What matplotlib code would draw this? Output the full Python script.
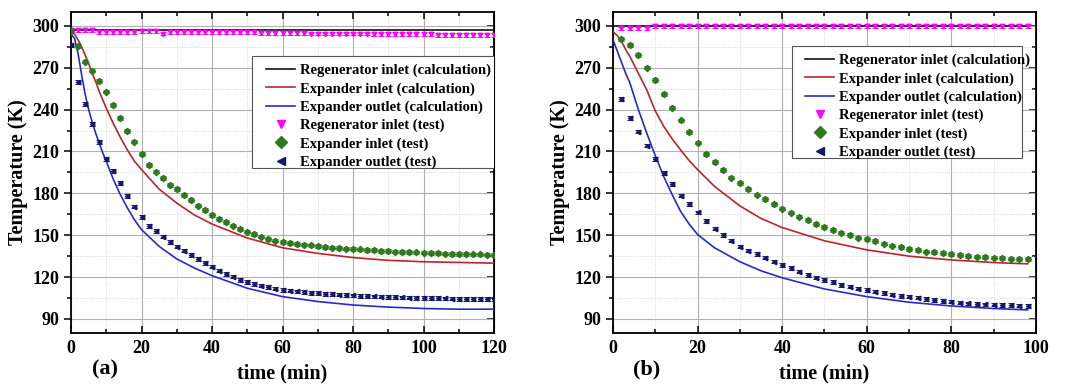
import numpy as np
import matplotlib
matplotlib.use("Agg")
import matplotlib.pyplot as plt
from matplotlib.ticker import MultipleLocator
from matplotlib.patches import Rectangle

plt.rcParams['font.family'] = ['Liberation Serif', 'DejaVu Serif']
plt.rcParams['font.weight'] = 'bold'

# ---------------- panel (a) ----------------
a_calc_t = [0, 1, 2, 3, 4, 5, 6, 7, 8, 9, 10, 12, 14, 16, 18, 20, 25, 30, 35, 40,
            50, 60, 70, 80, 90, 100, 110, 120]
a_regen_calc = [297] * len(a_calc_t)
a_expin_calc = [296, 294, 290, 285, 279, 273, 266, 260, 253, 247, 241, 230, 220, 211,
                203, 197, 183, 173, 164.5, 158, 148, 141, 137, 134, 132, 131, 130.5, 130]
a_expout_calc = [294, 291, 280, 265, 251, 240, 231, 223, 216, 209, 203, 190, 179, 169.5,
                 161, 154, 142, 133, 126.5, 121, 112, 106, 102.5, 100, 98.5, 97.5, 97, 97]

a_test_t = list(range(0, 121, 2))
a_regen_test = [297, 297, 297, 297, 295.5, 295.5, 295.5, 295.5, 295.5, 295.5, 296, 296,
                296, 294.5, 295.5, 295.5, 295.5, 295.5, 295.5, 295.5, 295.5, 295.5,
                295.5, 295.5, 295.5, 295.5, 295.5, 295, 295, 295, 295, 295, 295, 295,
                294.5, 294.5, 294.5, 294.5, 294.5, 294.5, 294.5, 294.5, 294.5, 294,
                294, 294, 294, 294, 294, 294, 294, 294, 293.5, 293.5, 293.5, 293.5,
                293.5, 293.5, 293.5, 293.5, 293.5]
a_expin_test = [296, 285.7, 274.4, 268, 260.6, 252.9, 243.4, 233.8, 224.7, 217.1, 208.3,
                200.4, 195.6, 190.8, 186, 182.9, 178.9, 175.3, 171.2, 168.1, 164.5,
                161.7, 159.3, 156.9, 154.3, 152.6, 150.7, 149, 147.3, 146.1, 145.2,
                144.5, 143.9, 143.3, 142.7, 142.2, 141.7, 141.2, 140.8, 140.4, 140.1,
                139.8, 139.5, 139.2, 138.9, 138.6, 138.3, 138.1, 137.9, 137.7, 137.5,
                137.3, 137.1, 136.9, 136.7, 136.6, 136.4, 136.3, 136.2, 136.1, 136]
a_expout_test = [286, 260, 244, 229.8, 217, 204.7, 196, 187.2, 178.2, 170.5, 163, 156.7,
                 153.1, 149, 145, 141.8, 139, 135.9, 132.8, 130, 127.5, 124.6, 122.3,
                 120.4, 118, 116.3, 115, 113.9, 112.7, 111.7, 110.8, 110.3, 109.8,
                 109.3, 108.8, 108.4, 108, 107.7, 107.4, 107.1, 106.9, 106.6, 106.4,
                 106.2, 106, 105.8, 105.6, 105.4, 105.3, 105.2, 105.1, 104.9, 104.8,
                 104.7, 104.6, 104.5, 104.4, 104.3, 104.2, 104.1, 104]

# ---------------- panel (b) ----------------
b_calc_t = [0, 1, 2, 3, 4, 6, 8, 10, 12, 14, 16, 18, 20, 24, 30, 35, 40, 50, 60, 70,
            80, 90, 98]
b_regen_calc = [300] * len(b_calc_t)
b_expin_calc = [296, 293, 289, 283, 278, 266, 254, 239, 228, 219, 211, 203.5, 197, 185,
                171, 162, 155.5, 146, 139.5, 135, 132.3, 130.4, 129.5]
b_expout_calc = [290, 282, 274, 266, 259, 240, 223, 207, 192, 179, 167, 158, 150.5,
                 141, 131, 124.5, 119.5, 111.5, 106, 102, 99.3, 97.5, 96.5]

b_test_t = list(range(2, 99, 2))
b_regen_test = [298.2, 298.2, 298.2, 298.2] + [299.7] * 45
b_expin_test = [290.4, 286.4, 279.2, 270.1, 261, 251, 241.5, 232.2, 224, 216.4, 208,
                202.3, 196.8, 191.3, 187.2, 182.9, 179.1, 176, 172.4, 169.1, 166.2,
                163.3, 160.7, 158.1, 155.7, 153.8, 151.9, 150, 148.3, 147.1, 145.7,
                144, 142.6, 141.4, 140.2, 139.5, 138.3, 137.8, 137.1, 136.4, 135.9,
                135.2, 134.7, 134.2, 134, 133.5, 133.3, 133, 132.8]
b_expout_test = [247.7, 233.8, 224.3, 214.2, 204.7, 194.4, 186.5, 178.4, 172.4, 166.4,
                 160.2, 154.7, 150.2, 146.1, 141.8, 139, 136.6, 134, 131.1, 128.7,
                 126.4, 124, 121.6, 119.6, 118, 116.3, 114.4, 113.2, 111.7, 110.8,
                 109.6, 108.4, 107.4, 106.5, 106, 105.3, 104.3, 103.6, 102.9, 102.4,
                 101.7, 101.2, 100.8, 100.5, 100.3, 100, 99.8, 99.6, 99.3]

calc_labels = ["Regenerator inlet (calculation)", "Expander inlet (calculation)",
               "Expander outlet (calculation)"]
test_labels = ["Regenerator inlet (test)", "Expander inlet (test)",
               "Expander outlet (test)"]
calc_colors = ["#111111", "#b8262a", "#2a2ac8"]
test_colors = ["#ff00ff", "#2f7a1f", "#16166a"]
test_markers = ["v", "D", "<"]


def draw_panel(ax, calc_t, calcs, test_t, tests, xmax, tag, leg_anchor, box):
    ax.set_xlim(0, xmax)
    ax.set_ylim(80, 310)
    ax.xaxis.set_major_locator(MultipleLocator(20))
    ax.xaxis.set_minor_locator(MultipleLocator(10))
    ax.yaxis.set_major_locator(MultipleLocator(30))
    ax.yaxis.set_minor_locator(MultipleLocator(15))
    ax.set_yticks(range(90, 301, 30))
    ax.grid(which='major', color='#b0b0b0', lw=0.8)
    ax.grid(which='minor', color='#cfcfcf', lw=0.6, ls=':')
    ax.set_axisbelow(True)

    for y, lab, c in zip(calcs, calc_labels, calc_colors):
        ax.plot(calc_t, y, color=c, lw=1.2, label=lab, zorder=3)
    for y, lab, c, m in zip(tests, test_labels, test_colors, test_markers):
        ax.errorbar(test_t, y, yerr=1.3, fmt='none', ecolor=c, elinewidth=0.7,
                    capsize=2, capthick=0.7, zorder=4)
        ax.plot(test_t, y, ls='none', marker=m, ms=3.2, color=c, label=lab, zorder=5)

    for s in ax.spines.values():
        s.set_linewidth(1.3)
    ax.tick_params(axis='x', which='both', direction='in', top=True, labelsize=13,
                   width=1.1, pad=5)
    ax.tick_params(axis='x', which='major', length=5)
    ax.tick_params(axis='x', which='minor', length=3)
    ax.tick_params(axis='y', which='both', direction='out', labelsize=13, width=1.1)
    ax.tick_params(axis='y', which='major', length=5)
    ax.tick_params(axis='y', which='minor', length=3)
    sec = ax.secondary_yaxis('right')
    sec.yaxis.set_major_locator(MultipleLocator(30))
    sec.yaxis.set_minor_locator(MultipleLocator(15))
    sec.tick_params(which='both', direction='in', labelright=False, width=1.1)
    sec.tick_params(which='major', length=5)
    sec.tick_params(which='minor', length=3)

    ax.set_xlabel("time (min)", fontsize=14.5, fontweight='bold', labelpad=5)
    ax.set_ylabel("Temperature (K)", fontsize=14.5, fontweight='bold', labelpad=3)
    ax.text(0.08, -0.115, tag, transform=ax.transAxes, fontsize=16,
            fontweight='bold', ha='center', va='center')

    # legend frame (drawn separately so the padding matches the original)
    ax.add_patch(Rectangle((box[0], box[1]), box[2], box[3], transform=ax.transAxes,
                           facecolor='white', edgecolor='#555555', lw=0.8, zorder=6))
    leg = ax.legend(loc='upper left', bbox_to_anchor=leg_anchor, fontsize=10.5,
                    frameon=False, borderaxespad=0, borderpad=0,
                    handlelength=2.0, handletextpad=0.35, labelspacing=0.33,
                    markerscale=2.0)
    leg.set_zorder(7)


fig = plt.figure(figsize=(10.7, 3.84), dpi=100)
ax1 = fig.add_axes([0.0664, 0.133, 0.3953, 0.836])
ax2 = fig.add_axes([0.5729, 0.133, 0.3953, 0.836])

draw_panel(ax1, a_calc_t, [a_regen_calc, a_expin_calc, a_expout_calc], a_test_t,
           [a_regen_test, a_expin_test, a_expout_test], 120, "(a)",
           (0.461, 0.838), (0.428, 0.514, 0.6, 0.349))
draw_panel(ax2, b_calc_t, [b_regen_calc, b_expin_calc, b_expout_calc], b_test_t,
           [b_regen_test, b_expin_test, b_expout_test], 100, "(b)",
           (0.454, 0.869), (0.423, 0.545, 0.544, 0.349))

fig.savefig("out.png", dpi=100)
